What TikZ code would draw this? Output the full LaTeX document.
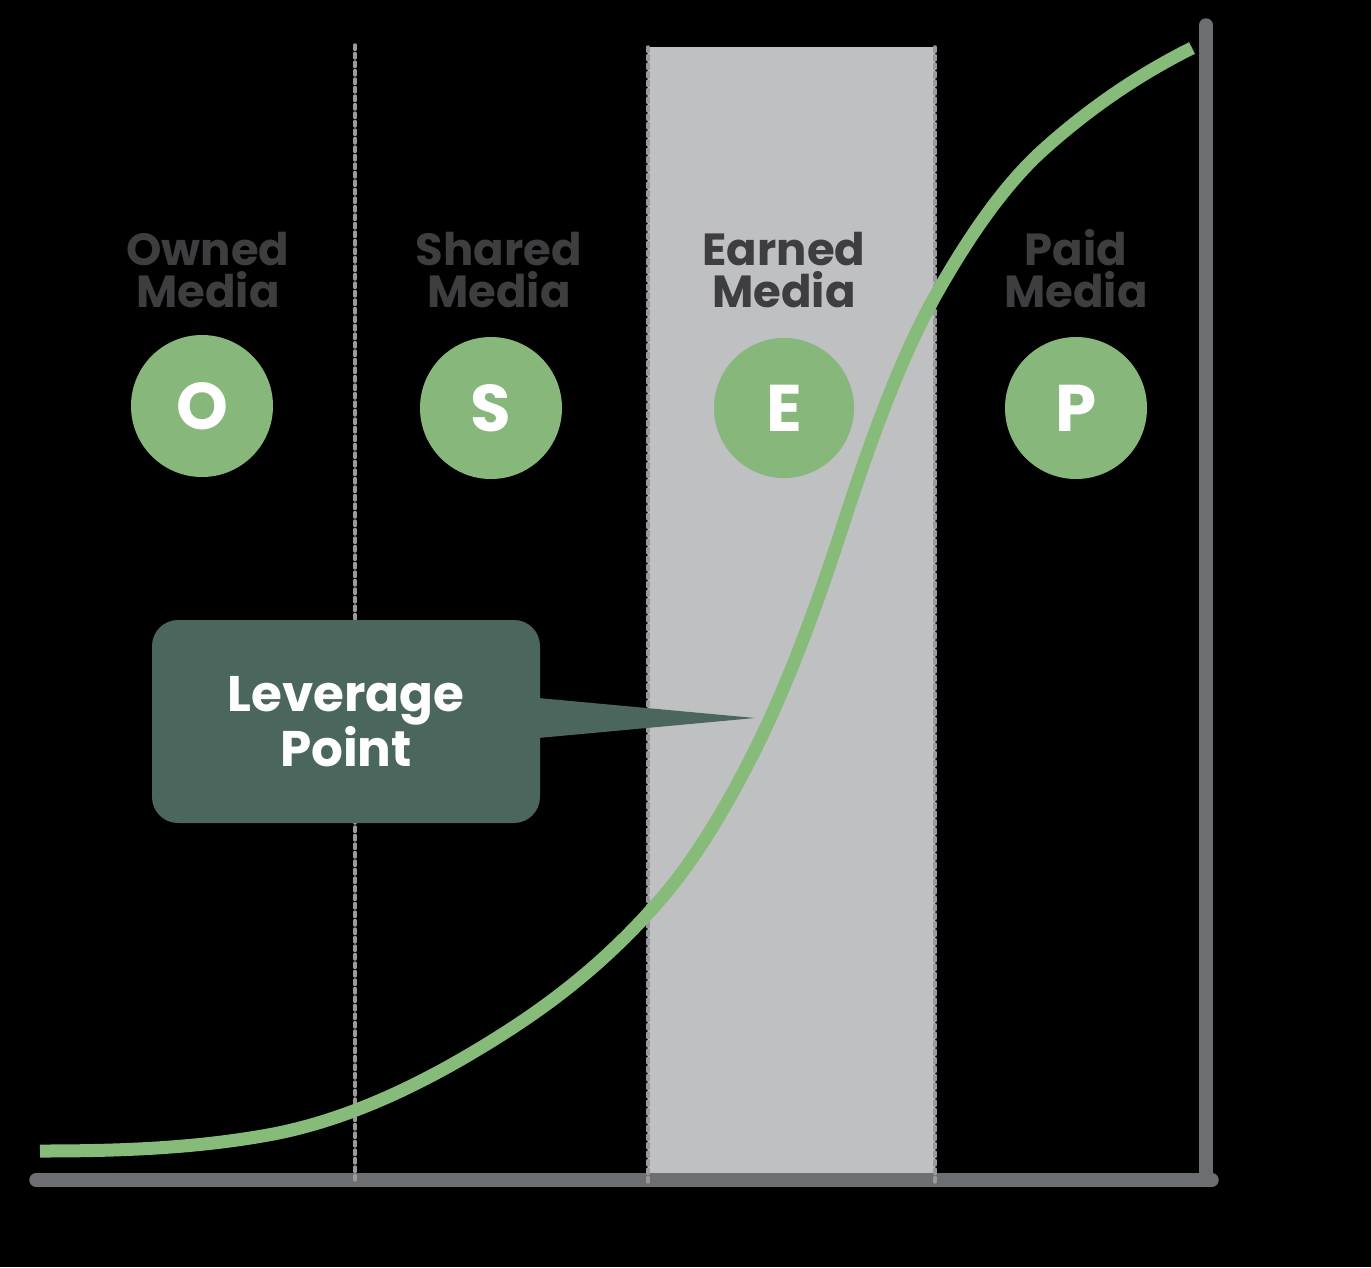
\documentclass[tikz,border=0pt]{standalone}
\usepackage{fontspec}
\setmainfont{Poppins}
\definecolor{axisgray}{HTML}{6D6E71}
\definecolor{dashgray}{HTML}{9A9A9E}
\definecolor{bandgray}{HTML}{BFC0C2}
\definecolor{labelgray}{HTML}{3E3E40}
\definecolor{circgreen}{HTML}{88B77B}
\definecolor{curvegreen}{HTML}{87BB7A}
\definecolor{boxgreen}{HTML}{4B665D}
\begin{document}
\begin{tikzpicture}[x=1pt,y=-1pt,
  divider/.style={draw=dashgray,line width=3.5pt,line cap=round,dash pattern=on 4.5pt off 4pt},
  axisline/.style={draw=axisgray,line width=13.5pt,line cap=round},
  medialabel/.style={text=labelgray,font=\bfseries\fontsize{45}{42}\selectfont,align=center,inner sep=0pt,anchor=base},
  letterdisc/.style={circle,fill=circgreen,minimum size=142pt,inner sep=0pt},
  letter/.style={text=white,font=\bfseries\fontsize{66}{66}\selectfont,inner sep=0pt,text height=46pt,text depth=0pt,anchor=center},
  levbox/.style={fill=boxgreen,rounded corners=26pt,minimum width=388pt,minimum height=203pt,inner sep=0pt,text=white,align=center,font=\bfseries\fontsize{50}{52}\selectfont}]
\useasboundingbox (0,0) rectangle (1371,1267);
\fill[black] (0,0) rectangle (1371,1267);
% earned band
\fill[bandgray] (648,47) rectangle (935,1175);
% axes
\coordinate (xl) at (36,1180);
\coordinate (corner) at (1206,1180);
\coordinate (yt) at (1206,25);
\draw[axisline] (xl) -- (1212,1180);
\draw[axisline,line cap=butt] (corner) ++(0,7) -- (1206,31);
\draw[axisline] (1206,40) -- (yt);
% dividers
\coordinate (d1t) at (355,45); \coordinate (d1b) at (355,1182);
\coordinate (d2t) at (648,47); \coordinate (d2b) at (648,1182);
\coordinate (d3t) at (935,47); \coordinate (d3b) at (935,1182);
\draw[divider] (d1t) -- (d1b);
\draw[divider] (d2t) -- (d2b);
\draw[divider] (d3t) -- (d3b);
% labels
\node[medialabel] (lo) at (208,307) {Owned\\Media};
\node[medialabel] (ls) at (499,307) {Shared\\Media};
\node[medialabel] (le) at (784,307) {Earned\\Media};
\node[medialabel] (lp) at (1076,307) {Paid\\Media};
% circles
\node[letterdisc] (co) at (202,406) {};
\node[letterdisc] (cs) at (491,408) {};
\node[letterdisc,minimum size=140pt] (ce) at (784,408) {};
\node[letterdisc] (cp) at (1076,408) {};
\node[letter] (to) at (co.center) {O};
\node[letter] (ts) at (cs.center) {S};
\node[letter] (te) at (ce.center) {E};
\node[letter] (tp) at (cp.center) {P};
% leverage box
\node[levbox] (lev) at (346,721.5) {Leverage\\Point};
\coordinate (tip) at (755,718);
\fill[boxgreen] ([xshift=-2pt,yshift=23.5pt]lev.east) -- (tip) -- ([xshift=-2pt,yshift=-16.5pt]lev.east) -- cycle;
% curve
\coordinate (p0) at (40,1151);
\coordinate (p8) at (1192,48);
\draw[curvegreen,line width=13pt] (p0)
  .. controls (116,1151) and (192,1148.7) .. (268,1135)
  .. controls (337.67,1122.46) and (407.33,1091.8) .. (477,1050)
  .. controls (538,1013.4) and (599,970.15) .. (660,900)
  .. controls (691.67,863.6) and (723.33,813.33) .. (755,750)
  .. controls (784.33,691.33) and (813.67,615.93) .. (843,525)
  .. controls (873,432) and (903,354) .. (933,300)
  .. controls (969.67,234) and (1006.33,183) .. (1043,150)
  .. controls (1092.67,105.3) and (1142.33,72.83) .. (p8);
\end{tikzpicture}
\end{document}
